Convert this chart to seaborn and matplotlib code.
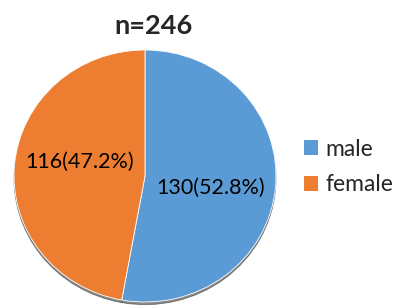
import matplotlib
matplotlib.use("Agg")
import matplotlib.pyplot as plt
import matplotlib.transforms as mtransforms
import seaborn as sns
from matplotlib.patches import Patch

# Data
categories = ["male", "female"]
counts = [130, 116]
colors = ["#5B9BD5", "#ED7D31"]
total = sum(counts)

sns.set_theme(style="white")
plt.rcParams["font.family"] = ["Lato", "DejaVu Sans"]

fig = plt.figure(figsize=(3.94, 3.05), dpi=100)
ax = fig.add_axes([14 / 394, 3 / 305, 262 / 394, 252 / 305])

def fmt(pct):
    n = int(round(pct * total / 100.0))
    return f"{n}({pct:.1f}%)"

wedges, texts, autotexts = ax.pie(
    counts, colors=colors, startangle=90, counterclock=False,
    autopct=fmt, pctdistance=0.5,
    wedgeprops=dict(linewidth=0.6, edgecolor="white"),
    shadow=dict(ox=0.0, oy=-0.015, color="#3a3a3a", alpha=0.6),
    textprops=dict(fontsize=15.5, color="black"),
)
ax.set_aspect("auto")
ax.set_xlim(-1.0, 1.0)
ax.set_ylim(-1.0, 1.0)

# nudge the value labels a little, as in the original
for t, dy in zip(autotexts, [-6, 9]):
    t.set_transform(mtransforms.offset_copy(t.get_transform(), fig=fig,
                                            x=0, y=dy, units="dots"))

fig.text(153 / 394, 1 - 26 / 305, f"n={total}", ha="center", va="center",
         fontsize=19.5, fontweight="bold")

handles = [Patch(facecolor=c, edgecolor="none") for c in colors]
fig.legend(handles, categories, loc="center left",
           bbox_to_anchor=(288 / 394, 1 - 167 / 305), frameon=False,
           fontsize=16.5, handlelength=0.6, handleheight=0.6,
           handletextpad=0.35, labelspacing=0.65, borderpad=0.2)

fig.savefig("out.png", dpi=100)
